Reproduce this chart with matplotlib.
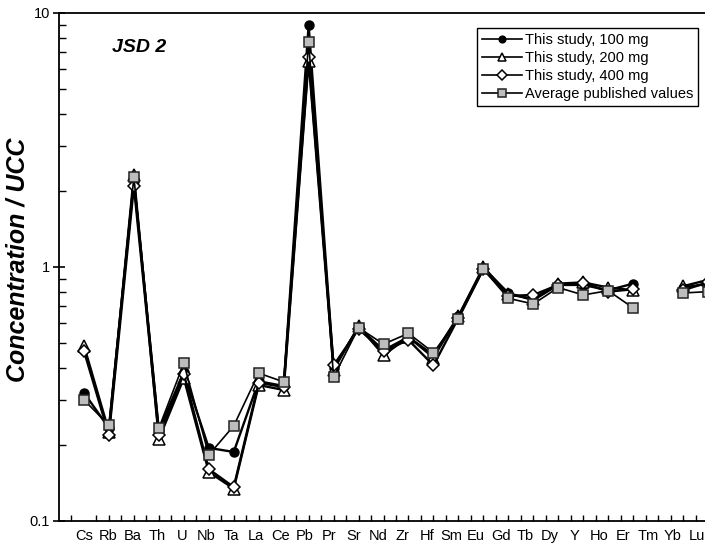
import matplotlib
matplotlib.use("Agg")
import matplotlib.pyplot as plt
import numpy as np

plt.rcParams["font.family"] = ["Liberation Sans", "DejaVu Sans"]

elements = ["Cs", "Rb", "Ba", "Th", "U", "Nb", "Ta", "La", "Ce", "Pb", "Pr", "Sr", "Nd",
            "Zr", "Hf", "Sm", "Eu", "Gd", "Tb", "Dy", "Y", "Ho", "Er", "Tm", "Yb", "Lu"]

nan = np.nan
study100 = [0.32, 0.232, 2.18, 0.228, 0.385, 0.194, 0.187, 0.355, 0.34, 8.97, 0.40, 0.58, 0.47,
            0.53, 0.45, 0.64, 0.99, 0.79, 0.74, 0.85, 0.85, 0.81, 0.86, nan, 0.83, 0.86]
study200 = [0.49, 0.225, 2.30, 0.21, 0.365, 0.156, 0.134, 0.343, 0.328, 6.5, 0.393, 0.585, 0.45,
            0.53, 0.44, 0.64, 1.0, 0.78, 0.75, 0.86, 0.87, 0.83, 0.81, nan, 0.84, 0.89]
study400 = [0.467, 0.218, 2.08, 0.218, 0.38, 0.16, 0.136, 0.35, 0.337, 6.7, 0.41, 0.57, 0.467,
            0.516, 0.41, 0.63, 0.98, 0.77, 0.776, 0.85, 0.867, 0.80, 0.817, nan, 0.81, 0.87]
published = [0.30, 0.238, 2.26, 0.232, 0.418, 0.182, 0.237, 0.382, 0.353, 7.69, 0.368, 0.577, 0.497,
             0.548, 0.46, 0.624, 0.98, 0.753, 0.715, 0.83, 0.776, 0.807, 0.69, nan, 0.79, 0.80]

x = np.arange(len(elements))

fig = plt.figure(figsize=(7.05, 5.49), dpi=100)
ax = fig.add_axes([59 / 705, 28 / 549, 674 / 705, 508 / 549])

ax.plot(x, study100, "-", color="black", lw=1.7, marker="o", ms=6.5,
        mfc="black", mec="black", label="This study, 100 mg", zorder=3)
ax.plot(x, study200, "-", color="black", lw=1.7, marker="^", ms=8,
        mfc="white", mec="black", mew=1.1, label="This study, 200 mg", zorder=4)
ax.plot(x, study400, "-", color="black", lw=1.7, marker="D", ms=6.4,
        mfc="white", mec="black", mew=1.1, label="This study, 400 mg", zorder=5)
ax.plot(x, published, "-", color="black", lw=1.2, marker="s", ms=7.2,
        mfc="#bdbdbd", mec="#222222", mew=1.1, label="Average published values", zorder=6)

ax.set_yscale("log")
ax.set_ylim(0.1, 10)
ax.set_xlim(-1, 26)
ax.set_yticks([0.1, 1, 10])
ax.set_yticklabels(["0.1", "1", "10"], fontsize=10.5)
ax.tick_params(axis="y", which="major", direction="inout", length=9, width=1.2, pad=2)
ax.tick_params(axis="y", which="minor", direction="in", length=5, width=1.0)

# tick marks at every element and half way between, labels slightly condensed like the original
ax.set_xticks(np.arange(-0.5, 26, 0.5), minor=True)
ax.set_xticks(x * 0.982)
ax.set_xticklabels(elements, fontsize=10.5,
                   family=["Liberation Sans Narrow", "Liberation Sans", "DejaVu Sans"])
ax.tick_params(axis="x", which="major", length=0, pad=6)
ax.tick_params(axis="x", which="minor", direction="in", length=4, width=1.0)

for side in ["left", "bottom", "top"]:
    ax.spines[side].set_linewidth(1.3)
ax.spines["right"].set_visible(False)

ax.text(0.079, 0.933, "JSD 2", transform=ax.transAxes, fontsize=14,
        fontweight="bold", fontstyle="italic", va="center", ha="left")

fig.text(18 / 705, 1 - 260 / 549, "Concentration / UCC", rotation=90, fontsize=18,
         fontweight="bold", fontstyle="italic", va="center", ha="center")

leg = ax.legend(loc="upper right", bbox_to_anchor=(698 / 705, 1 - 28 / 549),
                bbox_transform=fig.transFigure, borderaxespad=0, fontsize=10.5,
                handlelength=2.7, handletextpad=0.2, labelspacing=0.28,
                borderpad=0.35, markerscale=0.75, fancybox=False, framealpha=1)
leg.get_frame().set_edgecolor("black")
leg.get_frame().set_linewidth(1.0)
for line in leg.get_lines():
    line.set_linewidth(1.2)

fig.savefig("out.png", dpi=100)
